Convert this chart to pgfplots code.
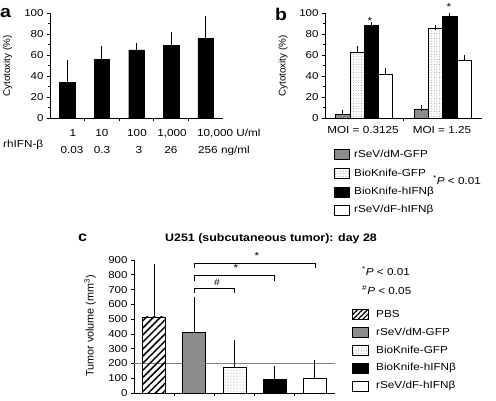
\documentclass[border=0pt]{standalone}
\usepackage{pgfplots}
\pgfplotsset{compat=1.18}
\usepackage{fontspec}
\setmainfont{Liberation Sans}[FakeStretch=1.15]
\newfontfamily\plainsans{Liberation Sans}
\usetikzlibrary{patterns.meta}
\definecolor{mygray}{gray}{0.55}
\pgfplotsset{
  panel/.style={scale only axis, anchor=south west,
    axis x line*=bottom, axis y line*=left,
    axis line style={line width=0.8pt},
    every tick/.style={black, line width=0.6pt},
    tick align=outside, major tick length=3pt, minor tick length=2pt,
    ymin=0, clip=false, xticklabels={},
    /pgf/number format/assume math mode=true,
    tick label style={font=\fontsize{10}{12}\selectfont}},
  ebar/.style={error bars/.cd, y dir=plus, y explicit,
    error bar style={line width=0.8pt,black},
    error mark options={black, line width=0.8pt, mark size=2.6pt}},
}
\begin{document}
\begin{tikzpicture}[x=1pt,y=1pt]
\useasboundingbox (0,0) rectangle (496,400);
\coordinate (PA) at (50,282);
\coordinate (PB) at (325,282);
\coordinate (PC) at (134,7);
\tikzset{txt/.style={font=\fontsize{10.2}{12}\selectfont, inner sep=0pt}}
% ---------------- panel a
\begin{axis}[panel, at={(PA)}, width=173pt, height=105pt,
  xmin=-0.5, xmax=4.5, ymax=100, ytick={0,20,...,100}, minor y tick num=1,
  xtick={0.5,1.5,2.5,3.5}]
\addplot[ybar, bar width=15.5pt, bar shift=0pt, fill=black, draw=black, ebar]
  coordinates {(0,34) +- (0,19) (1,56) +- (0,10) (2,65) +- (0,3.5) (3,69) +- (0,10) (4,76) +- (0,18.5)};
\end{axis}
\node[txt, rotate=90, font=\plainsans\fontsize{9.8}{12}\selectfont] at (7.5,334) {Cytotoxity (\%)};
\node[txt, anchor=base] at (73,263) {1};
\node[txt, anchor=base] at (102,263) {10};
\node[txt, anchor=base] at (137,263) {100};
\node[txt, anchor=base] at (172,263) {1,000};
\node[txt, anchor=base west] at (197,263) {10,000 U/ml};
\node[txt, anchor=base] at (72,247) {0.03};
\node[txt, anchor=base] at (102,247) {0.3};
\node[txt, anchor=base] at (139,247) {3};
\node[txt, anchor=base] at (171,247) {26};
\node[txt, anchor=base west] at (198,247) {256 ng/ml};
\node[txt, anchor=base west] at (3,253) {rhIFN-β};
\node[inner sep=0pt, anchor=base west, font=\fontsize{17}{17}\selectfont\bfseries] at (0,382) {a};
% ---------------- panel b
\begin{axis}[panel, at={(PB)}, width=157pt, height=105pt,
  xmin=-0.5, xmax=1.5, ymax=100, ytick={0,20,...,100}, minor y tick num=1,
  xtick={0.5}, ybar=0pt, bar width=14.25pt]
\addplot[fill=mygray, draw=black, line width=0.6pt, ebar]
  coordinates {(0,3.8) +- (0,1.6) (1,8.6) +- (0,1)};
\addplot[draw=black, line width=0.6pt, pattern={Dots[distance=2.6pt, radius=0.45pt]}, pattern color=gray, ebar]
  coordinates {(0,62.5) +- (0,4) (1,85) +- (0,1.3)};
\addplot[fill=black, draw=black, line width=0.6pt, ebar]
  coordinates {(0,88) +- (0,1) (1,96.8) +- (0,0.7)};
\addplot[fill=white, draw=black, line width=0.6pt, ebar]
  coordinates {(0,42) +- (0,3.4) (1,54.6) +- (0,2.5)};
\end{axis}
\node[txt, rotate=90, font=\plainsans\fontsize{9.8}{12}\selectfont] at (283,334) {Cytotoxity (\%)};
\node[txt, anchor=base] at (370,375) {*};
\node[txt, anchor=base] at (449,389.5) {*};
\node[txt, anchor=base] at (363,267) {MOI = 0.3125};
\node[txt, anchor=base] at (442,267) {MOI = 1.25};
\node[inner sep=0pt, anchor=base west, font=\fontsize{17}{17}\selectfont\bfseries] at (275,379) {b};
% legend b
\draw[line width=0.6pt, fill=mygray] (334,241) rectangle (349,251);
\draw[line width=0.6pt, pattern={Dots[distance=2.6pt, radius=0.45pt]}, pattern color=gray] (334,222) rectangle (349,232);
\draw[line width=0.6pt, fill=black] (334,203) rectangle (349,213);
\draw[line width=0.6pt, fill=white] (334,185) rectangle (349,195);
\node[txt, anchor=west] at (354,246) {rSeV/dM-GFP};
\node[txt, anchor=west] at (354,227) {BioKnife-GFP};
\node[txt, anchor=west] at (354,208) {BioKnife-hIFNβ};
\node[txt, anchor=west] at (354,190) {rSeV/dF-hIFNβ};
\node[txt, anchor=west] at (433,220) {\textsuperscript{*}\textit{P} < 0.01};
% ---------------- panel c
\begin{axis}[panel, at={(PC)}, width=201pt, height=133pt,
  xmin=-0.5, xmax=4.5, ymax=900, ytick={0,100,...,900},
  xtick={0.5,1.5,2.5,3.5}]
\addplot[sharp plot, gray, line width=0.6pt, forget plot] coordinates {(-0.5,200) (4.5,200)};
\addplot[ybar, bar width=23pt, bar shift=0pt, draw=black, line width=0.8pt,
  pattern={Lines[angle=45, distance=5pt, line width=1.5pt]}, pattern color=black, ebar]
  coordinates {(0,515) +- (0,342)};
\addplot[ybar, bar width=23pt, bar shift=0pt, draw=black, line width=0.8pt, fill=mygray, ebar]
  coordinates {(1,410) +- (0,223)};
\addplot[ybar, bar width=23pt, bar shift=0pt, draw=black, line width=0.8pt,
  pattern={Dots[distance=3pt, radius=0.5pt]}, pattern color=gray, ebar]
  coordinates {(2,172) +- (0,166)};
\addplot[ybar, bar width=23pt, bar shift=0pt, draw=black, line width=0.8pt, fill=black, ebar]
  coordinates {(3,92) +- (0,76)};
\addplot[ybar, bar width=23pt, bar shift=0pt, draw=black, line width=0.8pt, fill=white, ebar]
  coordinates {(4,100) +- (0,108)};
\draw[line width=0.7pt] (axis cs:1,677) |- (axis cs:2,710) -- (axis cs:2,677);
\draw[line width=0.7pt] (axis cs:1,758) |- (axis cs:3,798) -- (axis cs:3,758);
\draw[line width=0.7pt] (axis cs:1,846) |- (axis cs:4,880) -- (axis cs:4,846);
\end{axis}
\node[txt, font=\fontsize{9}{10}\selectfont] at (217,118) {\#};
\node[txt, anchor=base] at (236,129) {*};
\node[txt, anchor=base] at (257,141) {*};
\node[txt, rotate=90, font=\plainsans\fontsize{10.8}{12}\selectfont] at (90,74) {Tumor volume (mm\textsuperscript{3})};
\node[inner sep=0pt, anchor=base west, font=\fontsize{14}{14}\selectfont\bfseries] at (78,159) {c};
\node[inner sep=0pt, anchor=base west, font=\fontsize{10.8}{12}\selectfont\bfseries] at (165,159) {U251 (subcutaneous tumor): day 28};
\node[txt, anchor=west] at (362,129) {\textsuperscript{*}\textit{P} < 0.01};
\node[txt, anchor=west] at (362,110) {\textsuperscript{\#}\textit{P} < 0.05};
% legend c
\draw[line width=0.6pt, pattern={Lines[angle=45, distance=3.5pt, line width=1.2pt]}, pattern color=black] (352,81) rectangle (368,91);
\draw[line width=0.6pt, fill=mygray] (352,63) rectangle (368,73);
\draw[line width=0.6pt, pattern={Dots[distance=2.6pt, radius=0.45pt]}, pattern color=gray] (352,45) rectangle (368,55);
\draw[line width=0.6pt, fill=black] (352,27) rectangle (368,37);
\draw[line width=0.6pt, fill=white] (352,9) rectangle (368,19);
\node[txt, anchor=west] at (376,86) {PBS};
\node[txt, anchor=west] at (376,68) {rSeV/dM-GFP};
\node[txt, anchor=west] at (376,50) {BioKnife-GFP};
\node[txt, anchor=west] at (376,32) {BioKnife-hIFNβ};
\node[txt, anchor=west] at (376,14) {rSeV/dF-hIFNβ};
\end{tikzpicture}
\end{document}
